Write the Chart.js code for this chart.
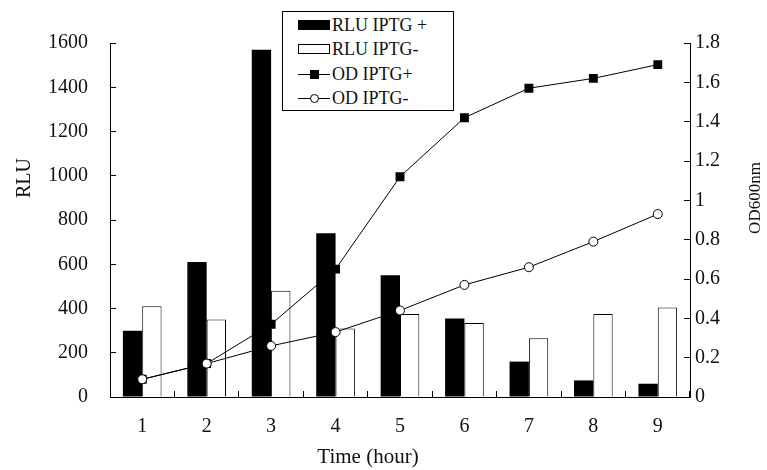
<!DOCTYPE html>
<html>
<head>
<meta charset="utf-8">
<script src="https://cdn.jsdelivr.net/npm/chart.js@4.4.1/dist/chart.umd.min.js"></script>
<style>
    body { margin: 0; background: #fff; }
    #wrap { position: relative; width: 767px; height: 470px; }
    #legend {
        position: absolute; left: 282px; top: 11px; width: 172px; height: 100px;
        border: 1px solid #000; background: #fff; box-sizing: border-box;
        font-family: "Liberation Serif", "Times New Roman", serif; font-size: 18px; color: #111;
    }
    .row { position: absolute; left: 15px; height: 24px; line-height: 24px; display: flex; align-items: center; }
    .sw { width: 32px; height: 24px; position: relative; margin-right: 2px; }
    .sw .box { position: absolute; left: 0; top: 7px; width: 32px; height: 10px; box-sizing: border-box; }
    .sw .ln { position: absolute; left: 0; top: 12px; width: 32px; height: 1px; background: #000; }
    .sw .sq { position: absolute; left: 12px; top: 8px; width: 9px; height: 9px; background: #000; }
    .sw .ci { position: absolute; left: 12px; top: 8px; width: 9px; height: 9px; border: 1px solid #000; border-radius: 50%; background: #fff; box-sizing: border-box; }
</style>
</head>
<body>
<div id="wrap">
    <canvas id="chart" width="767" height="470"></canvas>
    <div id="legend">
        <div class="row" style="top:1px"><div class="sw"><div class="box" style="background:#000"></div></div>RLU IPTG +</div>
        <div class="row" style="top:25px"><div class="sw"><div class="box" style="border:1px solid #000;background:#fff"></div></div>RLU IPTG-</div>
        <div class="row" style="top:50px"><div class="sw"><div class="ln"></div><div class="sq"></div></div>OD IPTG+</div>
        <div class="row" style="top:74px"><div class="sw"><div class="ln"></div><div class="ci"></div></div>OD IPTG-</div>
    </div>
</div>
<script>
// values
const timeLabels = ['1', '2', '3', '4', '5', '6', '7', '8', '9'];
const rluPlus = [300, 610, 1570, 740, 550, 355, 160, 75, 60];
const rluMinus = [410, 350, 480, 310, 375, 335, 265, 375, 405];
const odPlus = [0.09, 0.17, 0.37, 0.65, 1.12, 1.42, 1.57, 1.62, 1.69];
const odMinus = [0.09, 0.17, 0.26, 0.33, 0.44, 0.57, 0.66, 0.79, 0.93];

const serif = '"Liberation Serif", "Times New Roman", serif';
Chart.defaults.font.family = serif;
const tickFont = { family: serif, size: 20 };

// axis titles sit off-centre in the original, so draw them here
const axisTitles = {
    id: 'axisTitles',
    afterDraw(chart) {
        const ctx = chart.ctx;
        const area = chart.chartArea;
        ctx.save();
        ctx.fillStyle = '#111';
        ctx.textAlign = 'center';
        ctx.textBaseline = 'middle';

        ctx.font = '20px ' + serif;
        ctx.save();
        ctx.translate(area.left - 85, area.top + 135);
        ctx.rotate(-Math.PI / 2);
        ctx.fillText('RLU', 0, 0);
        ctx.restore();

        ctx.font = '21px ' + serif;
        ctx.fillText('Time (hour)', area.left + 258, area.bottom + 60);

        ctx.font = '17px ' + serif;
        ctx.save();
        ctx.translate(area.right + 66, area.top + 155);
        ctx.rotate(-Math.PI / 2);
        ctx.fillText('OD600nm', 0, 0);
        ctx.restore();
        ctx.restore();
    }
};

const ctx = document.getElementById('chart').getContext('2d');
new Chart(ctx, {
    data: {
        labels: timeLabels,
        datasets: [
            {
                type: 'line', label: 'OD IPTG-', data: odMinus, yAxisID: 'y1', order: 0,
                borderColor: '#000', borderWidth: 1, tension: 0,
                pointStyle: 'circle', pointRadius: 4.5, pointBackgroundColor: '#fff',
                pointBorderColor: '#000', pointBorderWidth: 1
            },
            {
                type: 'line', label: 'OD IPTG+', data: odPlus, yAxisID: 'y1', order: 1,
                borderColor: '#000', borderWidth: 1, tension: 0,
                pointStyle: 'rect', pointRadius: 6.3, pointBackgroundColor: '#000',
                pointBorderColor: '#000', pointBorderWidth: 0
            },
            {
                type: 'bar', label: 'RLU IPTG +', data: rluPlus, yAxisID: 'y', order: 2,
                backgroundColor: '#000', borderWidth: 0,
                categoryPercentage: 0.6, barPercentage: 1
            },
            {
                type: 'bar', label: 'RLU IPTG-', data: rluMinus, yAxisID: 'y', order: 3,
                backgroundColor: '#fff', borderColor: '#000', borderWidth: 1,
                categoryPercentage: 0.6, barPercentage: 1
            }
        ]
    },
    options: {
        responsive: false,
        animation: false,
        layout: { padding: { top: 43, left: 0, right: 0, bottom: 0 } },
        plugins: {
            legend: { display: false },
            tooltip: { enabled: false }
        },
        scales: {
            x: {
                offset: true,
                grid: { drawOnChartArea: false, offset: true, tickLength: -6, color: '#000' },
                border: { color: '#000', width: 1 },
                ticks: { font: tickFont, color: '#111', padding: 24, maxRotation: 0 },
                afterFit: s => { s.height = 73; }
            },
            y: {
                position: 'left',
                min: 0, max: 1600,
                grid: { drawOnChartArea: false, tickLength: -6, color: '#000' },
                border: { color: '#000', width: 1 },
                ticks: { stepSize: 200, font: tickFont, color: '#111', padding: 28, callback: v => String(v) },
                afterFit: s => { s.width = 110; }
            },
            y1: {
                position: 'right',
                min: 0, max: 1.8,
                grid: { drawOnChartArea: false, tickLength: -6, color: '#000' },
                border: { color: '#000', width: 1 },
                ticks: { stepSize: 0.2, font: tickFont, color: '#111', padding: 11, callback: v => String(Math.round(v * 10) / 10) },
                afterFit: s => { s.width = 77; }
            }
        }
    },
    plugins: [axisTitles]
});
</script>
</body>
</html>
